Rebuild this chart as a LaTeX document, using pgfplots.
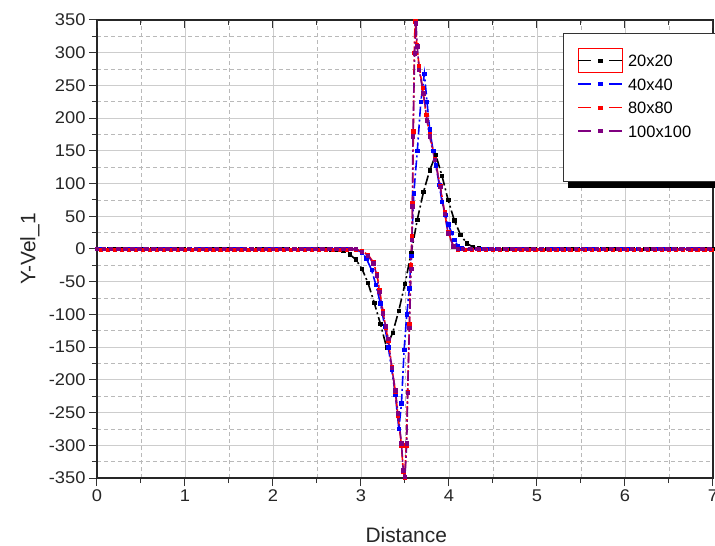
\documentclass[border=0pt]{standalone}
\usepackage{pgfplots}
\pgfplotsset{compat=1.18}
\usepackage{fontspec}
\setmainfont{Liberation Sans}
\newfontfamily\tickfont[FakeStretch=1.08]{Liberation Sans}
\definecolor{vpurple}{RGB}{128,0,128}
\definecolor{vblue}{RGB}{0,0,255}
\definecolor{vred}{RGB}{255,0,0}
\definecolor{gridgray}{RGB}{205,205,205}
\pgfplotsset{
  myleg/.style={legend image code/.code={
    \draw[##1, mark=none, dash pattern=on 13bp off 18bp] (0bp,0bp) -- (44bp,0bp);
    \draw[##1] plot coordinates {(22bp,0bp)};
  }},
  myleg1/.style={legend image code/.code={
    \draw[vred, solid, line width=1bp, overlay] (0bp,-12bp) rectangle (44bp,12bp);
    \draw[##1, mark=none, dash pattern=on 13bp off 18bp] (0bp,0bp) -- (44bp,0bp);
    \draw[##1] plot coordinates {(22bp,0bp)};
  }},
  ser/.style={line width=1.6bp, dash pattern=on 10bp off 3bp on 2bp off 3bp, mark=square*, mark size=1.7bp, mark options={solid, line width=0.6bp}},
}
\begin{document}
\begin{tikzpicture}
\begin{axis}[
  scale only axis, width=616bp, height=458bp,
  at={(0,0)}, anchor=south west, clip=false,
  xmin=0, xmax=7, ymin=-350, ymax=350,
  xtick={0,1,...,7}, ytick={-350,-300,...,350},
  minor x tick num=1, minor y tick num=1,
  grid=both,
  major grid style={gridgray, line width=0.9bp},
  minor grid style={gray!55, dash pattern=on 4bp off 3bp, line width=0.6bp},
  tick align=outside, xtick pos=left, ytick pos=left,
  major tick length=8bp, minor tick length=5bp,
  every tick/.style={black!80, line width=1bp},
  axis line style={black!85, line width=1.2bp},
  /pgf/number format/assume math mode=true,
  scaled y ticks=false,
  xticklabel style={font=\tickfont\fontsize{17}{17}\selectfont, text=black!85},
  yticklabel style={font=\tickfont\fontsize{17}{17}\selectfont, text=black!85},
  xlabel={Distance}, ylabel={Y-Vel\_1},
  every axis x label/.style={at={(axis description cs:0.502,-0.124)}, anchor=center, font=\fontsize{21}{21}\selectfont, text=black!85},
  every axis y label/.style={at={(axis description cs:-0.109,0.5)}, anchor=center, rotate=90, font=\fontsize{21}{21}\selectfont, text=black!85},
  legend style={at={(axis description cs:0.7565,0.9716)}, anchor=north west,
    draw=black!80, line width=1bp, fill=white, inner xsep=14bp, inner ysep=21bp,
    font=\fontsize{16.5}{16.5}\selectfont, row sep=11.5bp, column sep=5bp,
    nodes={inner sep=0pt, text height=12bp, text depth=0bp}},
  legend cell align=left,
]
\fill[black] (axis description cs:0.7646,0.9607) rectangle (axis description cs:1.02,0.6332);
\addplot[black, ser, myleg1] coordinates {
(0,0)(0.07,0)(0.14,0)(0.21,0)(0.28,0)(0.35,0)(0.42,0)(0.49,0)(0.56,0)(0.63,0)
(0.70,0)(0.77,0)(0.84,0)(0.91,0)(0.98,0)(1.05,0)(1.12,0)(1.19,0)(1.26,0)(1.33,0)
(1.40,0)(1.47,0)(1.54,0)(1.61,0)(1.68,0)(1.75,0)(1.82,0)(1.89,0)(1.96,0)(2.03,0)
(2.10,0)(2.17,0)(2.24,0)(2.31,0)(2.38,0)(2.45,0)(2.52,0)(2.59,0)
(2.66,-0.5)(2.73,-1)(2.80,-3)(2.87,-8)(2.94,-16)(3.01,-30)(3.08,-52)(3.15,-82)
(3.22,-114)(3.29,-150)(3.36,-128)(3.43,-94)(3.50,-53)(3.57,-6)(3.64,45)(3.71,87)
(3.78,120)(3.85,144)(3.92,112)(3.99,75)(4.06,44)(4.13,22)(4.20,9)(4.27,3)(4.34,1)
(4.41,0)(4.48,0)(4.55,0)(4.62,0)(4.69,0)(4.76,0)(4.83,0)(4.90,0)(4.97,0)(5.04,0)
(5.11,0)(5.18,0)(5.25,0)(5.32,0)(5.39,0)(5.46,0)(5.53,0)(5.60,0)(5.67,0)(5.74,0)
(5.81,0)(5.88,0)(5.95,0)(6.02,0)(6.09,0)(6.16,0)(6.23,0)(6.30,0)(6.37,0)(6.44,0)
(6.51,0)(6.58,0)(6.65,0)(6.72,0)(6.79,0)(6.86,0)(6.93,0)(7.00,0)
};
\addlegendentry{\makebox[80bp][l]{20x20}}
\addplot[vblue, ser, myleg] coordinates {
(0.05,0)(0.15,0)(0.25,0)(0.35,0)(0.45,0)(0.55,0)(0.65,0)(0.75,0)(0.85,0)(0.95,0)
(1.05,0)(1.15,0)(1.25,0)(1.35,0)(1.45,0)(1.55,0)(1.65,0)(1.75,0)(1.85,0)(1.95,0)
(2.05,0)(2.15,0)(2.25,0)(2.35,0)(2.45,0)(2.55,0)(2.65,0)(2.75,0)(2.85,0)
(2.94,-1)(3.01,-5)(3.06,-14)(3.12,-32)(3.17,-55)(3.22,-83)(3.27,-118)(3.31,-150)
(3.35,-185)(3.39,-222)(3.43,-275)(3.46,-236)(3.49,-154)(3.52,-100)(3.55,-60)(3.57,-10)
(3.60,85)(3.64,150)(3.68,225)(3.72,268)(3.75,225)(3.78,183)(3.82,150)(3.85,128)
(3.89,98)(3.92,72)(3.96,52)(3.99,38)(4.03,25)(4.06,14)(4.10,5)(4.14,1)
(4.25,0)(4.35,0)(4.45,0)(4.55,0)(4.65,0)(4.75,0)(4.85,0)(4.95,0)(5.05,0)(5.15,0)
(5.25,0)(5.35,0)(5.45,0)(5.55,0)(5.65,0)(5.75,0)(5.85,0)(5.95,0)(6.05,0)(6.15,0)
(6.25,0)(6.35,0)(6.45,0)(6.55,0)(6.65,0)(6.75,0)(6.85,0)(6.95,0)
};
\addlegendentry{40x40}
\addplot[vred, ser, myleg] coordinates {
(0.04,-1.5)(0.12,-1.5)(0.2,-1.5)(0.28,-1.5)(0.36,-1.5)(0.44,-1.5)(0.52,-1.5)(0.6,-1.5)(0.68,-1.5)(0.76,-1.5)
(0.84,-1.5)(0.92,-1.5)(1.0,-1.5)(1.08,-1.5)(1.16,-1.5)(1.24,-1.5)(1.32,-1.5)(1.4,-1.5)(1.48,-1.5)(1.56,-1.5)
(1.64,-1.5)(1.72,-1.5)(1.8,-1.5)(1.88,-1.5)(1.96,-1.5)(2.04,-1.5)(2.12,-1.5)(2.2,-1.5)(2.28,-1.5)(2.36,-1.5)
(2.44,-1.5)(2.52,-1.5)(2.6,-1.5)(2.68,-1.5)(2.76,-1.5)(2.84,-1.5)
(2.94,-1)(3.01,-3)(3.08,-9)(3.14,-20)(3.18,-38)(3.21,-62)(3.25,-95)(3.28,-120)
(3.31,-140)(3.35,-180)(3.39,-218)(3.42,-255)(3.46,-300)(3.48,-340)(3.495,-350)
(3.515,-300)(3.53,-218)(3.55,-115)(3.565,-25)(3.58,20)(3.585,70)(3.595,180)
(3.605,300)(3.615,348)(3.635,312)(3.66,280)(3.70,246)(3.74,205)(3.78,175)
(3.84,138)(3.90,97)(3.95,56)(3.99,26)(4.05,5)(4.10,-1)
(4.18,-1.5)(4.26,-1.5)(4.34,-1.5)(4.42,-1.5)(4.5,-1.5)(4.58,-1.5)(4.66,-1.5)(4.74,-1.5)(4.82,-1.5)(4.9,-1.5)
(4.98,-1.5)(5.06,-1.5)(5.14,-1.5)(5.22,-1.5)(5.3,-1.5)(5.38,-1.5)(5.46,-1.5)(5.54,-1.5)(5.62,-1.5)(5.7,-1.5)
(5.78,-1.5)(5.86,-1.5)(5.94,-1.5)(6.02,-1.5)(6.1,-1.5)(6.18,-1.5)(6.26,-1.5)(6.34,-1.5)(6.42,-1.5)(6.5,-1.5)
(6.58,-1.5)(6.66,-1.5)(6.74,-1.5)(6.82,-1.5)(6.9,-1.5)(6.98,-1.5)
};
\addlegendentry{80x80}
\addplot[vpurple, ser, myleg] coordinates {
(0,0)(0.08,0)(0.16,0)(0.24,0)(0.32,0)(0.4,0)(0.48,0)(0.56,0)(0.64,0)(0.72,0)
(0.8,0)(0.88,0)(0.96,0)(1.04,0)(1.12,0)(1.2,0)(1.28,0)(1.36,0)(1.44,0)(1.52,0)
(1.6,0)(1.68,0)(1.76,0)(1.84,0)(1.92,0)(2.0,0)(2.08,0)(2.16,0)(2.24,0)(2.32,0)
(2.4,0)(2.48,0)(2.56,0)(2.64,0)(2.72,0)(2.8,0)(2.88,0)
(2.94,0)(3.01,-4)(3.08,-10)(3.14,-22)(3.18,-40)(3.21,-65)(3.25,-98)(3.28,-118)
(3.31,-137)(3.35,-182)(3.39,-216)(3.42,-251)(3.46,-297)(3.48,-338)(3.50,-348)
(3.52,-297)(3.53,-220)(3.55,-120)(3.57,-30)(3.58,14)(3.585,65)(3.59,172)
(3.61,299)(3.625,345)(3.64,310)(3.66,274)(3.71,238)(3.75,197)(3.78,172)
(3.84,136)(3.90,95)(3.95,54)(3.99,24)(4.05,4)(4.10,0)
(4.16,0)(4.24,0)(4.32,0)(4.4,0)(4.48,0)(4.56,0)(4.64,0)(4.72,0)(4.8,0)(4.88,0)
(4.96,0)(5.04,0)(5.12,0)(5.2,0)(5.28,0)(5.36,0)(5.44,0)(5.52,0)(5.6,0)(5.68,0)
(5.76,0)(5.84,0)(5.92,0)(6.0,0)(6.08,0)(6.16,0)(6.24,0)(6.32,0)(6.4,0)(6.48,0)
(6.56,0)(6.64,0)(6.72,0)(6.8,0)(6.88,0)(6.96,0)
};
\addlegendentry{100x100}
\addlegendimage{empty legend}
\addlegendentry{}
\end{axis}
\begin{axis}[
  scale only axis, width=616bp, height=458bp,
  at={(0,0)}, anchor=south west,
  xmin=0, xmax=7, ymin=-350, ymax=350,
  axis x line*=top, hide y axis,
  xtick={0,1,...,7}, minor x tick num=1, xticklabels={},
  tick align=inside, major tick length=8bp, minor tick length=5bp,
  every tick/.style={black!80, line width=1bp},
  axis line style={draw=none},
]
\end{axis}
\pgfresetboundingbox
\path[use as bounding box] (-97bp,-68bp) rectangle (618bp,478bp);
\end{tikzpicture}
\end{document}
